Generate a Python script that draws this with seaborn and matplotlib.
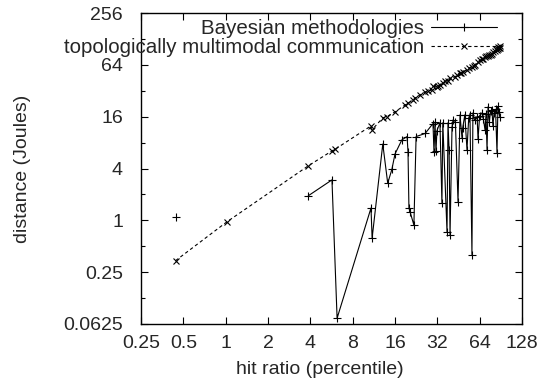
import numpy as np
import pandas as pd
import matplotlib
matplotlib.use("Agg")
import matplotlib.pyplot as plt
from matplotlib.lines import Line2D
import seaborn as sns

# ---- data ----
bayes_seg = [0] + [1] * 62
bayes_x = [0.44,
           3.87, 5.7, 6.2, 10.8, 11.0, 13.1, 14.2, 15.2, 16.0, 17.9,
           19.5, 19.8, 20.1, 20.5, 21.8, 22.6, 26.2, 29.8, 30.3, 30.8,
           31.3, 31.8, 33.4, 34.5, 35.0, 37.5, 38.1, 38.8, 39.4, 40.7,
           41.4, 43.0, 44.9, 46.4, 47.9, 48.5, 50.2, 52.0, 53.5, 54.6,
           56.4, 57.3, 59.0, 61.4, 62.3, 64.0, 66.5, 68.0, 69.9, 71.0,
           72.2, 73.4, 75.0, 76.5, 78.3, 79.5, 81.0, 83.0, 85.0, 86.3,
           87.5, 89.3]
bayes_y = [1.1,
           1.93, 2.95, 0.073, 1.39, 0.62, 7.7, 2.7, 3.9, 5.9, 8.6,
           9.4, 6.2, 1.39, 1.25, 0.88, 9.4, 10.2, 13.3, 6.2, 13.8,
           6.4, 11.0, 13.6, 1.6, 13.6, 0.73, 13.6, 6.6, 0.67, 12.2,
           14.7, 14.0, 1.65, 16.8, 9.1, 11.9, 16.8, 6.6, 15.5, 16.8,
           0.4, 17.7, 14.5, 15.9, 8.8, 16.5, 17.7, 15.0, 11.2, 17.0,
           6.6, 20.8, 14.0, 18.5, 19.2, 12.5, 17.7, 19.5, 6.1, 21.0,
           18.0, 15.9]

topo_x = [0.44, 1.02, 3.87, 5.7, 6.0, 10.8, 11.0, 13.1, 14.0, 16.0,
          18.9, 19.8, 21.5, 22.3, 24.0, 26.2, 27.5, 29.3, 29.8, 31.8,
          32.5, 33.4, 35.0, 36.5, 38.1, 39.4, 42.9, 44.0, 46.4, 47.5,
          49.0, 52.0, 54.0, 56.4, 58.0, 59.5, 62.3, 64.0, 66.5, 68.0,
          69.9, 71.0, 73.4, 75.0, 77.0, 78.3, 80.0, 82.0, 84.0, 85.0,
          86.3, 87.0, 88.0, 89.0, 90.0]
topo_y = [0.34, 0.96, 4.3, 6.4, 6.7, 12.5, 11.3, 15.5, 16.0, 18.2,
          21.9, 23.0, 25.0, 26.5, 28.5, 31.0, 31.5, 32.8, 36.0, 35.5,
          36.8, 37.5, 39.4, 41.5, 41.0, 45.0, 46.5, 49.0, 51.6, 52.0,
          53.0, 56.0, 59.0, 60.6, 62.0, 64.5, 69.5, 72.0, 74.0, 75.0,
          79.0, 80.0, 81.0, 84.0, 83.0, 86.0, 90.0, 92.0, 97.0, 95.6,
          104.0, 98.0, 100.0, 107.0, 101.0]

x_ticks = [0.25, 0.5, 1, 2, 4, 8, 16, 32, 64, 128]
x_tick_labels = ["0.25", "0.5", "1", "2", "4", "8", "16", "32", "64", "128"]
y_ticks = [0.0625, 0.25, 1, 4, 16, 64, 256]
y_tick_labels = ["0.0625", "0.25", "1", "4", "16", "64", "256"]
y_minor = [0.125, 0.5, 2, 8, 32, 128]

label_bayes = "Bayesian methodologies"
label_topo = "topologically multimodal communication"
xlabel = "hit ratio (percentile)"
ylabel = "distance (Joules)"

# ---- style ----
sns.set_style("ticks")
plt.rcParams["font.family"] = ["Liberation Sans", "DejaVu Sans"]
plt.rcParams["font.size"] = 14

fig = plt.figure(figsize=(5.42, 3.89), dpi=100)
ax = fig.add_axes([141 / 542, 1 - 324 / 389, 381 / 542, 311 / 389])
ax.set_xscale("log", base=2)
ax.set_yscale("log", base=2)

df_b = pd.DataFrame({"x": bayes_x, "y": bayes_y, "seg": bayes_seg})
df_t = pd.DataFrame({"x": topo_x, "y": topo_y})

lw = 0.8
sns.lineplot(data=df_b, x="x", y="y", units="seg", estimator=None, sort=False,
             color="black", lw=lw, marker="+", markersize=6, mew=0.8,
             mec="black", ax=ax)
n_b = len(ax.get_lines())
sns.lineplot(data=df_t, x="x", y="y", estimator=None, sort=False,
             color="black", lw=lw, marker="x", markersize=4.5,
             mew=0.8, mec="black", ax=ax)
for ln in ax.get_lines()[n_b:]:
    ln.set_dashes((3, 2.5))

ax.set_xlim(0.25, 128)
ax.set_ylim(0.0625, 256)
ax.set_xticks(x_ticks)
ax.set_xticklabels(x_tick_labels)
ax.set_yticks(y_ticks)
ax.set_yticklabels(y_tick_labels)
ax.set_yticks(y_minor, minor=True)
ax.yaxis.set_minor_formatter(matplotlib.ticker.NullFormatter())
ax.xaxis.set_minor_locator(matplotlib.ticker.NullLocator())

for s in ax.spines.values():
    s.set_visible(True)
    s.set_linewidth(1.0)
    s.set_color("black")
ax.tick_params(which="both", direction="in", top=True, right=True,
               color="black", width=0.8)
ax.tick_params(which="major", length=5)
ax.tick_params(which="minor", length=3)
ax.tick_params(axis="x", which="major", pad=8)
ax.tick_params(axis="y", which="major", pad=13)

ax.set_xlabel(xlabel)
ax.set_ylabel(ylabel)
ax.xaxis.set_label_coords(0.47, -0.145)
ax.xaxis.label.set_va("center")
ax.yaxis.set_label_coords(-0.312, 0.5)
ax.yaxis.label.set_va("center")

handles = [
    Line2D([], [], color="black", lw=lw, marker="+", markersize=6, mew=0.8),
    Line2D([], [], color="black", lw=lw, ls=(0, (3, 2.5)), marker="x",
           markersize=4.5, mew=0.8),
]
leg = ax.legend(handles, [label_bayes, label_topo], loc="upper right",
                bbox_to_anchor=((497 - 141) / 381, (324 - 19) / 311),
                frameon=False, markerfirst=False, numpoints=1,
                handlelength=3.2, handletextpad=0.35, labelspacing=0.0,
                borderpad=0, borderaxespad=0, fontsize=14.8)

fig.savefig("out.png", dpi=100)
